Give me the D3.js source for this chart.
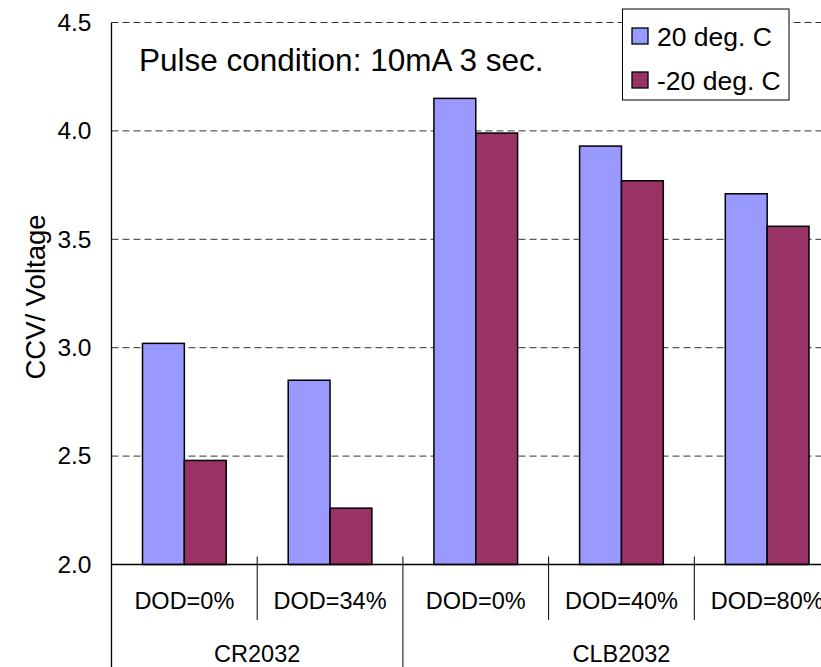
<!DOCTYPE html>
<html>
<head>
<meta charset="utf-8">
<script src="https://cdn.jsdelivr.net/npm/d3@7/dist/d3.min.js"></script>
<style>
html,body{margin:0;padding:0;background:#fff;}
svg{display:block;font-family:"Liberation Sans",Arial,sans-serif;}
</style>
</head>
<body>
<svg id="chart" width="821" height="667"></svg>
<script>
const categories = ["DOD=0%", "DOD=34%", "DOD=0%", "DOD=40%", "DOD=80%"];
const groups = ["CR2032", "CLB2032"];
const groupSizes = [2, 3];
const seriesNames = ["20 deg. C", "-20 deg. C"];
const values20 = [3.02, 2.85, 4.15, 3.93, 3.71];
const valuesMinus20 = [2.48, 2.26, 3.99, 3.77, 3.56];
const yTicks = [2.0, 2.5, 3.0, 3.5, 4.0, 4.5];
const colors = ["#9999FF", "#993366"];

const svg = d3.select("#chart");
const plotLeft = 111.5, plotRight = 840, plotTop = 22.5, plotBottom = 564.5;

const idx = categories.map((d, i) => i);
const x = d3.scaleBand().domain(idx).range([plotLeft, plotRight]).paddingInner(0).paddingOuter(0);
const x1 = d3.scaleBand().domain(seriesNames).range([31, x.bandwidth() - 31]);
const y = d3.scaleLinear().domain([2, 4.5]).range([plotBottom, plotTop]);

// gridlines
svg.append("g").selectAll("line").data(yTicks.filter(t => t > 2)).join("line")
  .attr("x1", plotLeft).attr("x2", plotRight)
  .attr("y1", d => y(d)).attr("y2", d => y(d))
  .attr("stroke", "#333").attr("stroke-width", 1).attr("stroke-dasharray", "7,4");

// bars
const series = [values20, valuesMinus20];
series.forEach((vals, si) => {
  svg.append("g").selectAll("rect").data(vals).join("rect")
    .attr("x", (d, i) => x(i) + x1(seriesNames[si]))
    .attr("width", x1.bandwidth())
    .attr("y", d => y(d))
    .attr("height", d => y(2) - y(d))
    .attr("fill", colors[si])
    .attr("stroke", "#000").attr("stroke-width", 1.5);
});

// y axis
const yAxis = d3.axisLeft(y).tickValues(yTicks).tickFormat(d3.format(".1f")).tickSize(0).tickPadding(20);
const ga = svg.append("g").attr("transform", `translate(${plotLeft},0)`).call(yAxis);
ga.select(".domain").remove();
ga.selectAll("text").attr("font-size", "24.5px").attr("fill", "#000")
  .attr("font-family", '"Liberation Sans",Arial,sans-serif');

// axis lines
svg.append("line").attr("x1", plotLeft).attr("x2", plotLeft).attr("y1", plotTop).attr("y2", 667)
  .attr("stroke", "#000").attr("stroke-width", 1.3);
svg.append("line").attr("x1", plotLeft).attr("x2", plotRight).attr("y1", plotBottom).attr("y2", plotBottom)
  .attr("stroke", "#000").attr("stroke-width", 1.3);

// category separators
const groupBounds = [];
let acc = 0;
groupSizes.forEach(s => { groupBounds.push([acc, acc + s]); acc += s; });
idx.forEach(i => {
  if (i === 0) return;
  const isGroup = groupBounds.some(b => b[0] === i);
  svg.append("line").attr("x1", x(i)).attr("x2", x(i))
    .attr("y1", plotBottom - 8).attr("y2", isGroup ? 667 : 620)
    .attr("stroke", "#000").attr("stroke-width", 1);
});

// category labels
svg.append("g").selectAll("text").data(categories).join("text")
  .attr("x", (d, i) => x(i) + x.bandwidth() / 2)
  .attr("y", 609)
  .attr("text-anchor", "middle").attr("font-size", "23.5px")
  .text(d => d);

// group labels
svg.append("g").selectAll("text").data(groups).join("text")
  .attr("x", (d, gi) => (x(groupBounds[gi][0]) + (groupBounds[gi][1] < idx.length ? x(groupBounds[gi][1]) : plotRight)) / 2)
  .attr("y", 662)
  .attr("text-anchor", "middle").attr("font-size", "23.5px")
  .text(d => d);

// y label
svg.append("text").attr("transform", "translate(45,297) rotate(-90)")
  .attr("text-anchor", "middle").attr("font-size", "27.5px")
  .text("CCV/ Voltage");

// title annotation
svg.append("text").attr("x", 139).attr("y", 70.5).attr("font-size", "31.5px")
  .text("Pulse condition: 10mA 3 sec.");

// legend
const lg = svg.append("g");
lg.append("rect").attr("x", 622.5).attr("y", 9).attr("width", 166.5).attr("height", 91)
  .attr("fill", "#fff").attr("stroke", "#000").attr("stroke-width", 1);
seriesNames.forEach((n, i) => {
  const cy = 36 + i * 44;
  lg.append("rect").attr("x", 632).attr("y", cy - 8).attr("width", 16).attr("height", 16)
    .attr("fill", colors[i]).attr("stroke", "#000").attr("stroke-width", 1.3);
  lg.append("text").attr("x", 657).attr("y", cy + 9.5).attr("font-size", "26.5px").text(n);
});
</script>
</body>
</html>
